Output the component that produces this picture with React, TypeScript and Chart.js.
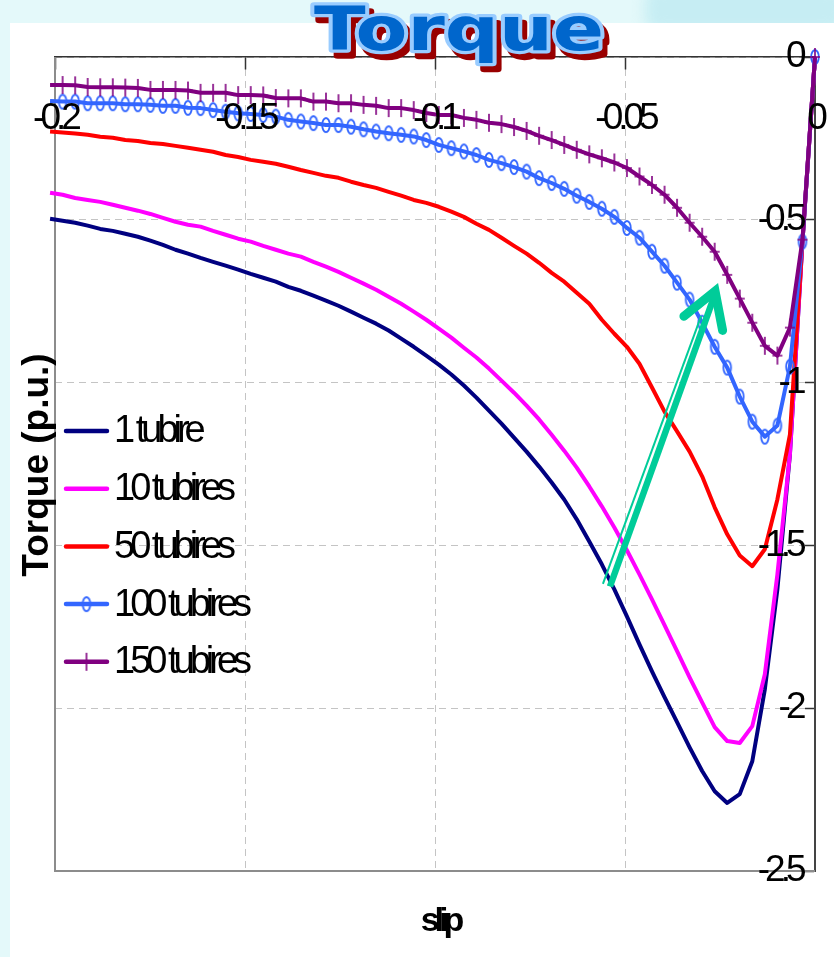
import { useEffect, useRef } from 'react';
import { Chart, registerables } from 'chart.js';

Chart.register(...registerables);

const W = 834;
const H = 957;

// Slip samples shared by every series (step 0.0033)
const slip = [
  -0.2013, -0.198, -0.1947, -0.1914, -0.1881, -0.1848, -0.1815, -0.1782, -0.1749, -0.1716,
  -0.1683, -0.165, -0.1617, -0.1584, -0.1551, -0.1518, -0.1485, -0.1452, -0.1419, -0.1386,
  -0.1353, -0.132, -0.1287, -0.1254, -0.1221, -0.1188, -0.1155, -0.1122, -0.1089, -0.1056,
  -0.1023, -0.099, -0.0957, -0.0924, -0.0891, -0.0858, -0.0825, -0.0792, -0.0759, -0.0726,
  -0.0693, -0.066, -0.0627, -0.0594, -0.0561, -0.0528, -0.0495, -0.0462, -0.0429, -0.0396,
  -0.0363, -0.033, -0.0297, -0.0264, -0.0231, -0.0198, -0.0165, -0.0132, -0.0099, -0.0066,
  -0.0033, 0,
];

// Torque (p.u.) per farm size
const torque1 = [
  -0.497, -0.503, -0.509, -0.518, -0.528, -0.534, -0.543, -0.552, -0.564, -0.577,
  -0.592, -0.604, -0.617, -0.629, -0.641, -0.653, -0.666, -0.678, -0.69, -0.706,
  -0.718, -0.733, -0.748, -0.764, -0.782, -0.801, -0.819, -0.84, -0.865, -0.89,
  -0.917, -0.945, -0.975, -1.009, -1.046, -1.086, -1.126, -1.169, -1.212, -1.258,
  -1.307, -1.359, -1.42, -1.488, -1.558, -1.635, -1.718, -1.804, -1.887, -1.966,
  -2.043, -2.12, -2.193, -2.255, -2.291, -2.264, -2.163, -1.942, -1.635, -1.221,
  -0.567, 0,
];

const torque10 = [
  -0.417, -0.423, -0.433, -0.439, -0.445, -0.454, -0.463, -0.472, -0.482, -0.494,
  -0.506, -0.515, -0.521, -0.534, -0.546, -0.558, -0.567, -0.58, -0.592, -0.604,
  -0.613, -0.629, -0.644, -0.66, -0.678, -0.696, -0.715, -0.736, -0.758, -0.782,
  -0.807, -0.834, -0.862, -0.893, -0.923, -0.957, -0.994, -1.031, -1.071, -1.113,
  -1.16, -1.209, -1.261, -1.319, -1.38, -1.445, -1.515, -1.589, -1.666, -1.745,
  -1.825, -1.905, -1.982, -2.058, -2.101, -2.107, -2.055, -1.896, -1.589, -1.221,
  -0.567, 0,
];

const torque50 = [
  -0.229, -0.232, -0.235, -0.239, -0.245, -0.248, -0.255, -0.258, -0.264, -0.267,
  -0.273, -0.279, -0.285, -0.291, -0.301, -0.307, -0.316, -0.322, -0.328, -0.337,
  -0.347, -0.356, -0.365, -0.371, -0.383, -0.393, -0.402, -0.414, -0.426, -0.439,
  -0.448, -0.46, -0.475, -0.491, -0.512, -0.531, -0.555, -0.58, -0.604, -0.632,
  -0.663, -0.69, -0.724, -0.758, -0.807, -0.85, -0.89, -0.942, -1.015, -1.089,
  -1.15, -1.212, -1.288, -1.383, -1.466, -1.531, -1.564, -1.512, -1.359, -1.16,
  -0.567, 0,
];

const torque100 = [
  -0.135, -0.137, -0.137, -0.142, -0.142, -0.142, -0.145, -0.145, -0.147, -0.15,
  -0.15, -0.156, -0.157, -0.163, -0.168, -0.173, -0.175, -0.178, -0.183, -0.193,
  -0.198, -0.203, -0.209, -0.209, -0.214, -0.222, -0.229, -0.234, -0.239, -0.244,
  -0.255, -0.27, -0.28, -0.29, -0.301, -0.316, -0.326, -0.338, -0.352, -0.372,
  -0.387, -0.405, -0.426, -0.445, -0.466, -0.491, -0.525, -0.555, -0.598, -0.641,
  -0.693, -0.745, -0.816, -0.89, -0.954, -1.043, -1.12, -1.166, -1.132, -0.951,
  -0.567, 0,
];

const torque150 = [
  -0.086, -0.086, -0.087, -0.092, -0.093, -0.093, -0.094, -0.095, -0.101, -0.101,
  -0.101, -0.103, -0.11, -0.11, -0.11, -0.117, -0.117, -0.118, -0.126, -0.127,
  -0.127, -0.137, -0.137, -0.142, -0.142, -0.147, -0.15, -0.157, -0.157, -0.163,
  -0.172, -0.178, -0.178, -0.187, -0.193, -0.202, -0.206, -0.215, -0.227, -0.242,
  -0.255, -0.27, -0.285, -0.299, -0.311, -0.324, -0.341, -0.367, -0.393, -0.423,
  -0.463, -0.509, -0.552, -0.598, -0.669, -0.742, -0.816, -0.887, -0.917, -0.831,
  -0.561, 0,
];

const seriesLabels = ['1 tubire', '10 tubires', '50 tubires', '100 tubires', '150 tubires'];
const seriesColors = ['#000080', '#ff00ff', '#ff0000', '#3366ff', '#800080'];
const seriesValues = [torque1, torque10, torque50, torque100, torque150];

const xRange = [-0.2, 0];
const yRange = [-2.5, 0];
const xStep = 0.05;
const yStep = 0.5;

// Annotation arrow (data coordinates)
const arrowTail = { x: -0.0547, y: -1.623 };
const arrowTip = { x: -0.0263, y: -0.719 };

const chartTitle = 'Torque';
const xTitle = 'slip';
const yTitle = 'Torque (p.u.)';

const FONT = "'Liberation Sans', Arial, sans-serif";

const tickText = (v: number) => String(Math.round(v * 1000) / 1000);
// y labels sit left of the inward tick marks; a trailing en space keeps them clear
const yTickText = (v: number) => `${tickText(v)}\u2002`;

function ellipseMarker(color: string) {
  const c = document.createElement('canvas');
  c.width = 12;
  c.height = 18;
  const g = c.getContext('2d')!;
  g.strokeStyle = color;
  g.lineWidth = 1.8;
  g.beginPath();
  g.ellipse(6, 9, 3.8, 7, 0, 0, Math.PI * 2);
  g.stroke();
  return c;
}

function plusMarker(color: string) {
  const c = document.createElement('canvas');
  c.width = 12;
  c.height = 20;
  const g = c.getContext('2d')!;
  g.strokeStyle = color;
  g.lineWidth = 1.6;
  g.beginPath();
  g.moveTo(6, 1);
  g.lineTo(6, 19);
  g.moveTo(1, 10);
  g.lineTo(11, 10);
  g.stroke();
  return c;
}

// Axes sit inside the plot, so they must not reserve any side padding
const noPadding = (scale: any) => {
  scale.paddingLeft = 0;
  scale.paddingRight = 0;
  scale.paddingTop = 0;
  scale.paddingBottom = 0;
};

export default function App() {
  const canvasRef = useRef<HTMLCanvasElement>(null);

  useEffect(() => {
    const canvas = canvasRef.current;
    if (!canvas) return;

    const markers: (HTMLCanvasElement | null)[] = [
      null,
      null,
      null,
      ellipseMarker(seriesColors[3]),
      plusMarker(seriesColors[4]),
    ];

    const decorations = {
      id: 'decorations',
      beforeDraw(chart: any) {
        chart.ctx.letterSpacing = '-5px';
      },
      beforeDatasetsDraw(chart: any) {
        const { ctx, chartArea } = chart;
        ctx.save();
        ctx.strokeStyle = '#8c8c8c';
        ctx.lineWidth = 2;
        ctx.beginPath();
        ctx.moveTo(chartArea.left, chartArea.top);
        ctx.lineTo(chartArea.left, chartArea.bottom);
        ctx.lineTo(chartArea.right, chartArea.bottom);
        ctx.stroke();
        ctx.restore();
      },
      afterDatasetsDraw(chart: any) {
        const { ctx } = chart;
        const xs = chart.scales.x;
        const ys = chart.scales.y;
        const tx = xs.getPixelForValue(arrowTail.x);
        const ty = ys.getPixelForValue(arrowTail.y);
        const hx = xs.getPixelForValue(arrowTip.x);
        const hy = ys.getPixelForValue(arrowTip.y);
        const len = Math.hypot(hx - tx, hy - ty);
        const ux = (hx - tx) / len;
        const uy = (hy - ty) / len;
        const nx = uy;
        const ny = -ux;
        ctx.save();
        ctx.letterSpacing = '0px';
        ctx.strokeStyle = '#00cc99';
        // thick + thin compound shaft
        ctx.lineCap = 'butt';
        ctx.lineWidth = 6.5;
        ctx.beginPath();
        ctx.moveTo(tx - nx * 3, ty - ny * 3);
        ctx.lineTo(hx - nx * 1, hy - ny * 1);
        ctx.stroke();
        ctx.lineWidth = 2;
        ctx.beginPath();
        ctx.moveTo(tx + nx * 4.5, ty + ny * 4.5);
        ctx.lineTo(hx - ux * 28 + nx * 4.5, hy - uy * 28 + ny * 4.5);
        ctx.stroke();
        // open chevron head
        const arm = 40;
        const a = (31 * Math.PI) / 180;
        const bx = -ux;
        const by = -uy;
        const lx = bx * Math.cos(a) - by * Math.sin(a);
        const ly = bx * Math.sin(a) + by * Math.cos(a);
        const rx = bx * Math.cos(-a) - by * Math.sin(-a);
        const ry = bx * Math.sin(-a) + by * Math.cos(-a);
        ctx.lineWidth = 9;
        ctx.lineCap = 'round';
        ctx.lineJoin = 'miter';
        ctx.miterLimit = 10;
        ctx.beginPath();
        ctx.moveTo(hx + lx * arm, hy + ly * arm);
        ctx.lineTo(hx, hy);
        ctx.lineTo(hx + rx * arm, hy + ry * arm);
        ctx.stroke();
        ctx.restore();
      },
      afterDraw(chart: any) {
        const { ctx, chartArea } = chart;
        ctx.save();

        // Word-art title
        ctx.letterSpacing = '0px';
        ctx.font = "bold 56px 'DejaVu Sans', sans-serif";
        ctx.textAlign = 'left';
        ctx.textBaseline = 'alphabetic';
        const tw = ctx.measureText(chartTitle).width;
        const targetW = 290;
        const sx = targetW / tw;
        const drawTitle = (dx: number, dy: number, fill: string, stroke: string, lw: number) => {
          ctx.save();
          ctx.translate(459 - targetW / 2 + dx, 50 + dy);
          ctx.scale(sx, 1.08);
          ctx.lineJoin = 'round';
          ctx.lineWidth = lw;
          ctx.strokeStyle = stroke;
          ctx.strokeText(chartTitle, 0, 0);
          ctx.fillStyle = fill;
          ctx.fillText(chartTitle, 0, 0);
          ctx.restore();
        };
        drawTitle(5, 6, '#990000', '#990000', 6);
        drawTitle(0, 0, '#0066cc', '#99ccff', 6);

        // Axis titles
        ctx.fillStyle = '#000';
        ctx.textAlign = 'center';
        ctx.textBaseline = 'middle';
        ctx.font = `bold 37px ${FONT}`;
        ctx.save();
        ctx.translate(38, (chartArea.top + chartArea.bottom) / 2 + 1);
        ctx.rotate(-Math.PI / 2);
        ctx.fillText(yTitle, 0, 0);
        ctx.restore();

        ctx.font = `bold 34px ${FONT}`;
        ctx.letterSpacing = '-5px';
        ctx.fillText(xTitle, 440, 922);

        // Legend
        const lx0 = 66;
        const lx1 = 107;
        const ly0 = 431;
        const ldy = 57.7;
        ctx.textAlign = 'left';
        ctx.font = `38px ${FONT}`;
        ctx.letterSpacing = '-5px';
        chart.data.datasets.forEach((ds: any, i: number) => {
          const y = ly0 + i * ldy;
          ctx.strokeStyle = ds.borderColor;
          ctx.lineWidth = 4.5;
          ctx.lineCap = 'round';
          ctx.beginPath();
          ctx.moveTo(lx0, y);
          ctx.lineTo(lx1, y);
          ctx.stroke();
          const m = markers[i];
          if (m) ctx.drawImage(m, (lx0 + lx1) / 2 - m.width / 2, y - m.height / 2);
          ctx.fillStyle = '#000';
          ctx.fillText(ds.label, 114, y + 1);
        });

        ctx.restore();
      },
    };

    const tickFont = { family: FONT, size: 37, lineHeight: 1 };

    const chart = new Chart(canvas, {
      type: 'line',
      data: {
        datasets: seriesValues.map((vals, i) => ({
          label: seriesLabels[i],
          data: slip.map((s, j) => ({ x: s, y: vals[j] })),
          borderColor: seriesColors[i],
          backgroundColor: seriesColors[i],
          borderWidth: 4,
          borderJoinStyle: 'round',
          tension: 0,
          pointStyle: markers[i] || 'circle',
          pointRadius: markers[i] ? 3 : 0,
          pointHoverRadius: 3,
          pointBorderWidth: 1,
          order: 5 - i,
          clip: { left: 6, top: 12, right: 12, bottom: 0 },
        })),
      } as any,
      options: {
        responsive: false,
        animation: false,
        events: [],
        layout: { padding: { left: 55, top: 57, right: 19, bottom: 86 } },
        plugins: {
          legend: { display: false },
          title: { display: false },
          tooltip: { enabled: false },
        },
        scales: {
          x: {
            type: 'linear',
            position: { y: 0 },
            min: xRange[0],
            max: xRange[1],
            afterFit: noPadding,
            ticks: {
              stepSize: xStep,
              autoSkip: false,
              maxRotation: 0,
              color: '#000',
              font: tickFont,
              padding: 31,
              z: 1,
              callback: tickText,
            },
            grid: {
              color: '#c4c4c4',
              lineWidth: 1,
              tickLength: 12,
              tickColor: '#333',
              tickWidth: 1.5,
              tickBorderDash: [],
            },
            border: { display: true, color: '#333', width: 1.5, dash: [7, 5] },
          },
          y: {
            type: 'linear',
            position: { x: 0 },
            min: yRange[0],
            max: yRange[1],
            afterFit: noPadding,
            ticks: {
              stepSize: yStep,
              autoSkip: false,
              color: '#000',
              font: tickFont,
              padding: 5,
              z: 1,
              callback: yTickText,
            },
            grid: {
              color: '#c4c4c4',
              lineWidth: 1,
              tickLength: 9,
              tickColor: '#333',
              tickWidth: 1.5,
              tickBorderDash: [],
            },
            border: { display: true, color: '#444', width: 2, dash: [7, 5] },
          },
        },
      } as any,
      plugins: [decorations],
    });

    return () => chart.destroy();
  }, []);

  return (
    <div
      style={{
        position: 'absolute',
        left: 0,
        top: 0,
        width: W,
        height: H,
        background: '#e4f9fa',
        overflow: 'hidden',
      }}
    >
      <div
        style={{
          position: 'absolute',
          left: 645,
          top: -14,
          width: 200,
          height: 46,
          background: '#c6edf3',
          filter: 'blur(7px)',
          borderRadius: 14,
        }}
      />
      <div
        style={{
          position: 'absolute',
          left: 10,
          top: 23,
          right: 0,
          bottom: 0,
          background: '#ffffff',
        }}
      />
      <canvas
        ref={canvasRef}
        width={W}
        height={H}
        style={{ position: 'absolute', left: 0, top: 0 }}
      />
    </div>
  );
}
